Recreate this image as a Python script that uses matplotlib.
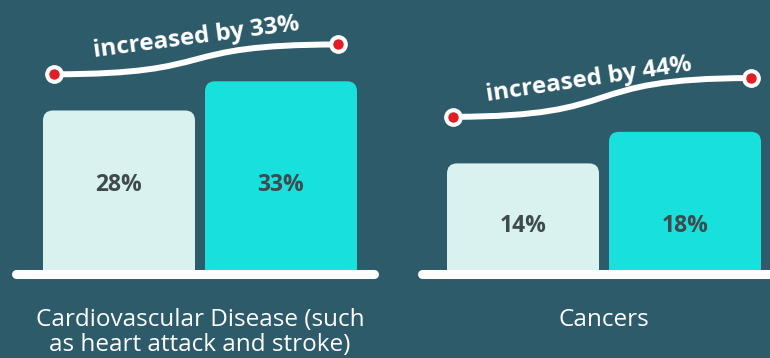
import matplotlib
matplotlib.use("Agg")
import matplotlib.pyplot as plt
from matplotlib.patches import FancyBboxPatch, PathPatch
from matplotlib.path import Path

# data
categories = ["Cardiovascular Disease (such\nas heart attack and stroke)", "Cancers"]
before = [28, 14]
after = [33, 18]
change_labels = ["increased by 33%", "increased by 44%"]

BG = "#2d5b6a"
LIGHT = "#d9f1ef"
CYAN = "#18e0dc"
TXT = "#3e4a4c"
RED = "#e11d26"
FONT = ["Open Sans", "DejaVu Sans"]

W, H = 770, 358
BASE = 84          # baseline, px from bottom
STEP = 162         # px between bar centres
# per panel layout: axes left/right in px, first bar centre px, px per y unit,
# dots = (x offset from bar centre, y offset above bar top) for each bar
panels = [
    dict(left=16, right=374, c0=119, ppy=5.84, rot=7.5, off=(0, 22), lab_y=15.3,
         dots=((-0.40, 6.2), (0.35, 6.3))),
    dict(left=422, right=800, c0=523, ppy=7.9, rot=8.5, off=(-13, 18), lab_y=6.1,
         dots=((-0.43, 5.9), (0.41, 6.8))),
]

fig = plt.figure(figsize=(W / 100, H / 100), dpi=100, facecolor=BG)

for i, p in enumerate(panels):
    ax = fig.add_axes([p["left"] / W, BASE / H, (p["right"] - p["left"]) / W, (H - BASE) / H])
    ax.set_xlim((p["left"] - p["c0"]) / STEP, (p["right"] - p["c0"]) / STEP)
    ax.set_ylim(0, (H - BASE) / p["ppy"])
    ax.axis("off")

    vals = [before[i], after[i]]
    bars = ax.bar([0, 1], vals, width=152 / STEP, color=[LIGHT, CYAN])
    rx = 10 / STEP
    ry = 10 / p["ppy"]
    for b in bars:
        b.set_visible(False)
        patch = FancyBboxPatch((b.get_x(), -ry), b.get_width(), b.get_height() + ry,
                               boxstyle=f"round,pad=0,rounding_size={rx}",
                               mutation_aspect=ry / rx, fc=b.get_facecolor(), ec="none")
        ax.add_patch(patch)
        ax.text(b.get_x() + b.get_width() / 2, p["lab_y"], f"{b.get_height():.0f}%",
                ha="center", va="center", color=TXT, fontsize=16.5, fontweight="bold",
                family=FONT)

    # white baseline across the panel
    ax.plot([0, 1], [0, 0], transform=ax.get_yaxis_transform(), color="white",
            lw=6.5, solid_capstyle="round", clip_on=False)

    # S-shaped connector between the two bars
    (dx0, dy0), (dx1, dy1) = p["dots"]
    x0, y0 = 0 + dx0, vals[0] + dy0
    x1, y1 = 1 + dx1, vals[1] + dy1
    dx = x1 - x0
    path = Path([(x0, y0), (x0 + 0.6 * dx, y0), (x1 - 0.6 * dx, y1), (x1, y1)],
                [Path.MOVETO, Path.CURVE4, Path.CURVE4, Path.CURVE4])
    ax.add_patch(PathPatch(path, fc="none", ec="white", lw=4.3, clip_on=False))
    ax.plot([x0, x1], [y0, y1], "o", ms=13.5, mfc="white", mec="none", clip_on=False)
    ax.plot([x0, x1], [y0, y1], "o", ms=7.5, mfc=RED, mec="none", clip_on=False)
    ax.annotate(change_labels[i], xy=((x0 + x1) / 2, (y0 + y1) / 2),
                xytext=(p["off"][0] * 0.72, p["off"][1] * 0.72), textcoords="offset points",
                rotation=p["rot"], rotation_mode="anchor", ha="center", va="center",
                color="white", fontsize=17.5, fontweight="bold", family=FONT)

    ax.text(0.5, -34 / p["ppy"], categories[i], ha="center", va="top", color="white",
            fontsize=17.5, family=FONT, linespacing=1.05, clip_on=False)

fig.savefig("out.png", dpi=100, facecolor=BG)
